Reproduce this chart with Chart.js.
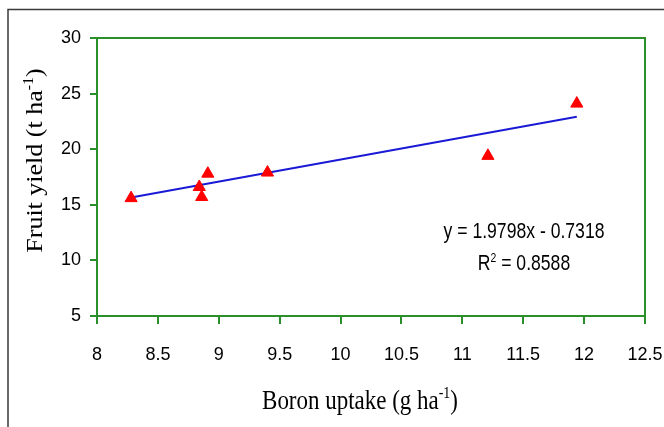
<!DOCTYPE html>
<html>
<head>
    <title>Fruit yield vs Boron uptake</title>
    <style>
        body {
            margin: 0;
            padding: 0;
            background-color: #fff;
        }

        #chart {
            display: block;
        }
    </style>
</head>
<body>
    <canvas id="chart" width="664" height="427"></canvas>
    <script src="https://cdn.jsdelivr.net/npm/chart.js"></script>
    <script>
        // values
        var boronUptake = [8.28, 8.84, 8.86, 8.91, 9.40, 11.21, 11.94];
        var fruitYield = [15.6, 16.6, 15.7, 17.8, 17.9, 19.4, 24.1];

        // linear trendline end points
        var trendX = [8.28, 11.94];
        var trendY = [15.66, 22.91];

        var xTicks = [8, 8.5, 9, 9.5, 10, 10.5, 11, 11.5, 12, 12.5];
        var yTicks = [5, 10, 15, 20, 25, 30];

        var equationText = "y = 1.9798x - 0.7318";
        var r2Text = " = 0.8588";

        var green = "#2b902b";

        function toPoints(xs, ys) {
            var pts = [];
            for (var i = 0; i < xs.length; i++) {
                pts.push({ x: xs[i], y: ys[i] });
            }
            return pts;
        }

        // draws text pieces [text, isSuperscript] starting at x
        function drawPieces(ctx, pieces, x, y, size, family) {
            for (var i = 0; i < pieces.length; i++) {
                var sup = pieces[i][1];
                ctx.font = (sup ? Math.round(size * 0.6) : size) + "px " + family;
                ctx.fillText(pieces[i][0], x, sup ? y - size * 0.38 : y);
                x += ctx.measureText(pieces[i][0]).width;
            }
        }

        function piecesWidth(ctx, pieces, size, family) {
            var w = 0;
            for (var i = 0; i < pieces.length; i++) {
                var sup = pieces[i][1];
                ctx.font = (sup ? Math.round(size * 0.6) : size) + "px " + family;
                w += ctx.measureText(pieces[i][0]).width;
            }
            return w;
        }

        var decorPlugin = {
            id: 'decor',
            beforeDraw: function(chart) {
                var ctx = chart.ctx;
                ctx.save();
                ctx.fillStyle = "#fff";
                ctx.fillRect(0, 0, chart.width, chart.height);
                // outer frame (cut off at right and bottom)
                ctx.strokeStyle = "#3a3a3a";
                ctx.lineWidth = 1.5;
                ctx.beginPath();
                ctx.moveTo(8, 430);
                ctx.lineTo(8, 9.5);
                ctx.lineTo(664, 9.5);
                ctx.stroke();
                ctx.restore();
            },
            afterDraw: function(chart) {
                var ctx = chart.ctx;
                var area = chart.chartArea;
                ctx.save();

                // plot box
                ctx.strokeStyle = green;
                ctx.lineWidth = 2;
                ctx.strokeRect(area.left, area.top, area.right - area.left, area.bottom - area.top);

                ctx.fillStyle = "#000";
                ctx.textBaseline = "alphabetic";
                ctx.textAlign = "left";

                // x axis title
                var serif = "'Liberation Serif', 'Times New Roman', serif";
                var xPieces = [["Boron uptake (g ha", false], ["-1", true], [")", false]];
                ctx.save();
                ctx.translate(360, 409);
                ctx.scale(0.82, 1);
                var w = piecesWidth(ctx, xPieces, 28, serif);
                drawPieces(ctx, xPieces, -w / 2, 0, 28, serif);
                ctx.restore();

                // y axis title
                var yPieces = [["Fruit yield (t ha", false], ["-1", true], [")", false]];
                ctx.save();
                ctx.translate(42, 160.5);
                ctx.scale(0.9, 1);
                ctx.rotate(-Math.PI / 2);
                w = piecesWidth(ctx, yPieces, 26, serif);
                drawPieces(ctx, yPieces, -w / 2, 0, 26, serif);
                ctx.restore();

                // regression equation
                var sans = "'Liberation Sans', Arial, sans-serif";
                ctx.save();
                ctx.translate(524, 238);
                ctx.scale(0.8, 1);
                var p1 = [[equationText, false]];
                w = piecesWidth(ctx, p1, 22, sans);
                drawPieces(ctx, p1, -w / 2, 0, 22, sans);
                var p2 = [["R", false], ["2", true], [r2Text, false]];
                w = piecesWidth(ctx, p2, 22, sans);
                drawPieces(ctx, p2, -w / 2, 32, 22, sans);
                ctx.restore();

                ctx.restore();
            }
        };

        var tickFont = { family: "'Liberation Sans', Arial, sans-serif", size: 18 };

        new Chart(document.getElementById('chart'), {
            type: 'scatter',
            data: {
                datasets: [{
                    label: 'Trend',
                    type: 'line',
                    data: toPoints(trendX, trendY),
                    borderColor: '#1a1ad6',
                    borderWidth: 2,
                    pointRadius: 0,
                    fill: false,
                    order: 2
                }, {
                    label: 'Fruit yield',
                    data: toPoints(boronUptake, fruitYield),
                    pointStyle: 'triangle',
                    pointRadius: 7,
                    backgroundColor: '#ff0000',
                    borderColor: '#ff0000',
                    borderWidth: 1,
                    order: 1
                }]
            },
            options: {
                responsive: false,
                animation: false,
                devicePixelRatio: 1,
                layout: {
                    padding: { top: 38, right: 19, left: 0, bottom: 0 }
                },
                plugins: {
                    legend: { display: false },
                    tooltip: { enabled: false }
                },
                scales: {
                    x: {
                        type: 'linear',
                        min: 8,
                        max: 12.5,
                        afterBuildTicks: function(scale) {
                            scale.ticks = xTicks.map(function(v) { return { value: v }; });
                        },
                        afterFit: function(scale) {
                            scale.height = 111;
                            scale.paddingLeft = 0;
                            scale.paddingRight = 0;
                        },
                        border: { display: true, color: green, width: 2 },
                        grid: {
                            drawOnChartArea: false,
                            drawTicks: true,
                            tickLength: 8,
                            color: green,
                            lineWidth: 2
                        },
                        ticks: {
                            color: '#000',
                            font: tickFont,
                            padding: 20,
                            maxRotation: 0,
                            callback: function(v) { return String(v); }
                        }
                    },
                    y: {
                        type: 'linear',
                        min: 5,
                        max: 30,
                        afterBuildTicks: function(scale) {
                            scale.ticks = yTicks.map(function(v) { return { value: v }; });
                        },
                        afterFit: function(scale) {
                            scale.width = 97;
                            scale.paddingTop = 0;
                            scale.paddingBottom = 0;
                        },
                        border: { display: true, color: green, width: 2 },
                        grid: {
                            drawOnChartArea: false,
                            drawTicks: true,
                            tickLength: 7,
                            color: green,
                            lineWidth: 2
                        },
                        ticks: {
                            color: '#000',
                            font: tickFont,
                            padding: 9,
                            callback: function(v) { return String(v); }
                        }
                    }
                }
            },
            plugins: [decorPlugin]
        });
    </script>
</body>
</html>
